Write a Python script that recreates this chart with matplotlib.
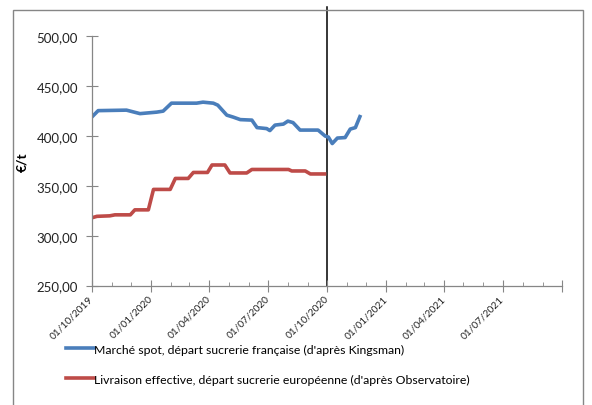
"""
Prix du sucre blanc : marché spot vs livraison effective.
"""

import numpy as np
import matplotlib
matplotlib.use("Agg")
import matplotlib.pyplot as plt
import matplotlib.dates as mdates
from matplotlib.patches import Rectangle

plt.rcParams['font.family'] = ['Lato', 'DejaVu Sans']

# Marché spot, départ sucrerie française (d'après Kingsman)
spot_dates = ['2019-10-01', '2019-10-11', '2019-11-24', '2019-12-15', '2020-01-10',
              '2020-01-20', '2020-02-02', '2020-03-12', '2020-03-22', '2020-04-07',
              '2020-04-14', '2020-04-28', '2020-05-08', '2020-05-19', '2020-06-06',
              '2020-06-14', '2020-06-29', '2020-07-04', '2020-07-12', '2020-07-25',
              '2020-08-01', '2020-08-09', '2020-08-20', '2020-09-17', '2020-09-28',
              '2020-10-03', '2020-10-09', '2020-10-17', '2020-10-29', '2020-11-06',
              '2020-11-14', '2020-11-21']
spot_prices = [419, 425.5, 426, 422.5, 424,
               425, 433, 433, 434, 433,
               431, 421, 419, 416.5, 416,
               408.5, 407.5, 405.5, 411, 412,
               415, 413.5, 406, 406, 400,
               399, 392.5, 398, 398.5, 407,
               408.5, 419.5]

# Livraison effective, départ sucrerie européenne (d'après Observatoire)
eff_dates = ['2019-10-01', '2019-10-09', '2019-10-29', '2019-11-06', '2019-11-30',
             '2019-12-07', '2019-12-28', '2020-01-05', '2020-01-31', '2020-02-08',
             '2020-02-28', '2020-03-07', '2020-03-29', '2020-04-05', '2020-04-25',
             '2020-05-03', '2020-05-29', '2020-06-06', '2020-08-02', '2020-08-07',
             '2020-08-28', '2020-09-05', '2020-09-27']
eff_prices = [318, 319.5, 320, 321, 321,
              326, 326, 346.5, 346.5, 357.5,
              357.5, 363.5, 363.5, 371, 371,
              363, 363, 366.5, 366.5, 365,
              365, 362, 362]

major_ticks = ['2019-10-01', '2020-01-01', '2020-04-01', '2020-07-01', '2020-10-01',
               '2021-01-01', '2021-04-01', '2021-07-01', '2021-10-01']
marker_date = '2020-10-01'

fig = plt.figure(figsize=(5.92, 4.06), dpi=100)
ax = fig.add_axes([0.155, 0.294, 0.794, 0.614])

ax.plot(np.array(spot_dates, dtype='datetime64[D]'), spot_prices, color='#4a7ebb', lw=2.6,
        label="Marché spot, départ sucrerie française (d'après Kingsman)")
ax.plot(np.array(eff_dates, dtype='datetime64[D]'), eff_prices, color='#be4b48', lw=2.6,
        label="Livraison effective, départ sucrerie européenne (d'après Observatoire)")

# trait vertical au 01/10/2020
ax.plot(np.array([marker_date, marker_date], dtype='datetime64[D]'), [250, 529],
        color='black', lw=1.1, clip_on=False, zorder=1)

ax.set_xlim(np.datetime64(major_ticks[0]), np.datetime64(major_ticks[-1]))
ax.set_ylim(250, 500)
ax.set_yticks([250, 300, 350, 400, 450, 500])
ax.set_yticklabels([f"{v:.2f}".replace('.', ',') for v in [250, 300, 350, 400, 450, 500]],
                   fontsize=9.5, color='#222222')

ax.set_xticks(np.array(major_ticks, dtype='datetime64[D]'))
ax.set_xticklabels(['01/10/2019', '01/01/2020', '01/04/2020', '01/07/2020', '01/10/2020',
                    '01/01/2021', '01/04/2021', '01/07/2021', ''],
                   rotation=45, ha='right', va='center', rotation_mode='anchor',
                   fontsize=7.3, color='#222222')
ax.xaxis.set_minor_locator(mdates.MonthLocator())

for s in ['top', 'right']:
    ax.spines[s].set_visible(False)
for s in ['left', 'bottom']:
    ax.spines[s].set_color('#868686')
    ax.spines[s].set_linewidth(0.9)
ax.tick_params(axis='y', which='major', direction='inout', length=8, color='#868686', pad=6)
ax.tick_params(axis='x', which='major', direction='inout', length=8, color='#868686', pad=4)
ax.tick_params(axis='x', which='minor', direction='in', length=3, color='#868686')

ax.set_ylabel('€/t', fontsize=10, fontweight='bold', labelpad=6)

leg = fig.legend(loc='upper left', bbox_to_anchor=(0.103, 0.163), frameon=False,
                 fontsize=8.8, handlelength=2.3, handletextpad=0.0, labelspacing=1.55,
                 borderaxespad=0)

# cadre extérieur du graphique
fig.patches.append(Rectangle((13 / 592, -0.01), (583 - 13) / 592, 1 - 11 / 406 + 0.01,
                             transform=fig.transFigure, fill=False,
                             edgecolor='#868686', lw=1.0))

fig.savefig('out.png', dpi=100)
